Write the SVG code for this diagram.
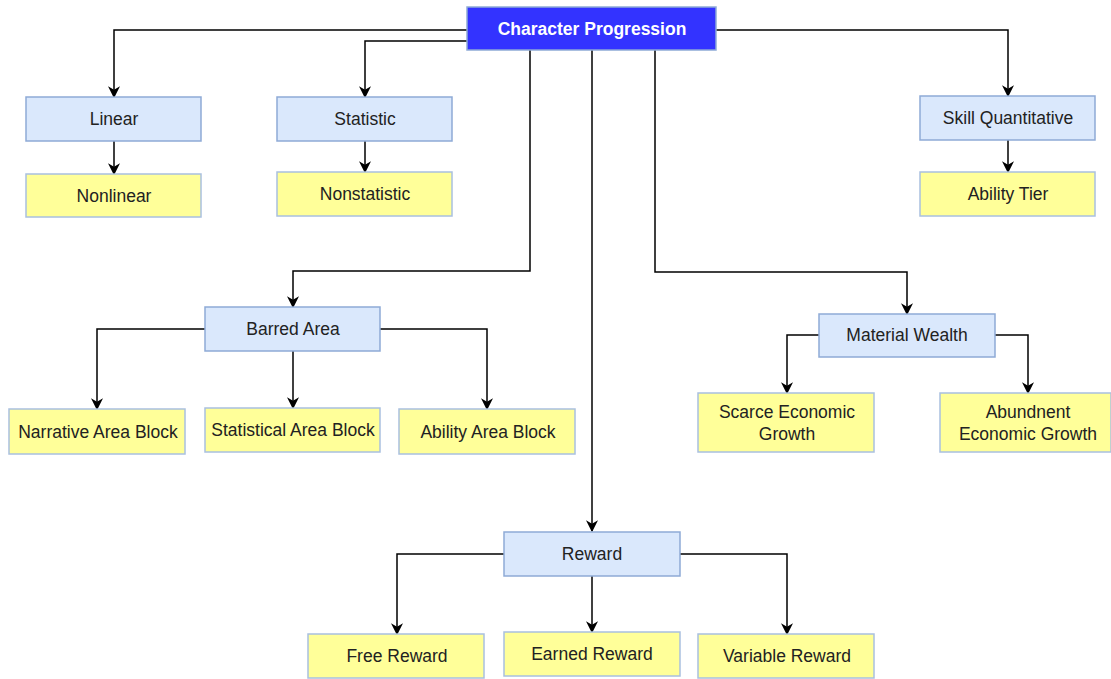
<svg xmlns="http://www.w3.org/2000/svg" width="1111" height="679" viewBox="0 0 1111 679">
<defs>
<marker id="arr" viewBox="0 0 10 10" refX="9" refY="5" markerWidth="12" markerHeight="12" markerUnits="userSpaceOnUse" orient="auto">
<path d="M0,0 L10,5 L0,10 L3,5 Z" fill="#000"/>
</marker>
<style>
.b{fill:#dae8fc;stroke:#8eaad6;stroke-width:1.5}
.y{fill:#ffff99;stroke:#a9c0e0;stroke-width:1.5}
.t{font-family:"Liberation Sans",Arial,sans-serif;font-size:17.5px;fill:#222;text-anchor:middle;dominant-baseline:central}
.c{fill:none;stroke:#000;stroke-width:1.5;marker-end:url(#arr)}
</style>
</defs>
<rect width="1111" height="679" fill="#fff"/>
<g id="connectors">
<path class="c" d="M467,30 H114 V97"/>
<path class="c" d="M467,41 H365 V97"/>
<path class="c" d="M716,30 H1008 V96"/>
<path class="c" d="M530,50 V271 H293 V307"/>
<path class="c" d="M592,50 V531"/>
<path class="c" d="M655,50 V272 H907 V314"/>
<path class="c" d="M114,141 V174"/>
<path class="c" d="M365,141 V172"/>
<path class="c" d="M1008,140 V172"/>
<path class="c" d="M205,329 H97 V409"/>
<path class="c" d="M293,351 V408"/>
<path class="c" d="M380,329 H487 V409"/>
<path class="c" d="M819,335 H787 V393"/>
<path class="c" d="M995,335 H1028 V393"/>
<path class="c" d="M504,554 H397 V634"/>
<path class="c" d="M592,576 V632"/>
<path class="c" d="M680,554 H787 V634"/>
</g>
<g id="n-root"><rect x="467" y="7" width="249" height="43" fill="#3333ff" stroke="#8eaad6" stroke-width="1.5"/><text class="t" x="592" y="29" style="fill:#fff;font-weight:bold">Character Progression</text></g>
<g id="n-linear"><rect class="b" x="26" y="97" width="175" height="44"/><text class="t" x="114" y="119">Linear</text></g>
<g id="n-nonlinear"><rect class="y" x="26" y="174" width="175" height="43"/><text class="t" x="114" y="196">Nonlinear</text></g>
<g id="n-statistic"><rect class="b" x="277" y="97" width="175" height="44"/><text class="t" x="365" y="119">Statistic</text></g>
<g id="n-nonstatistic"><rect class="y" x="277" y="172" width="175" height="44"/><text class="t" x="365" y="194">Nonstatistic</text></g>
<g id="n-skill"><rect class="b" x="920" y="96" width="175" height="44"/><text class="t" x="1008" y="118">Skill Quantitative</text></g>
<g id="n-ability-tier"><rect class="y" x="920" y="172" width="175" height="44"/><text class="t" x="1008" y="194">Ability Tier</text></g>
<g id="n-barred"><rect class="b" x="205" y="307" width="175" height="44"/><text class="t" x="293" y="329">Barred Area</text></g>
<g id="n-narrative"><rect class="y" x="9" y="409" width="176" height="45"/><text class="t" x="98" y="432">Narrative Area Block</text></g>
<g id="n-statistical"><rect class="y" x="205" y="408" width="175" height="44"/><text class="t" x="293" y="430">Statistical Area Block</text></g>
<g id="n-ability-area"><rect class="y" x="399" y="409" width="176" height="45"/><text class="t" x="488" y="432">Ability Area Block</text></g>
<g id="n-material"><rect class="b" x="819" y="314" width="176" height="43"/><text class="t" x="907" y="335">Material Wealth</text></g>
<g id="n-scarce"><rect class="y" x="698" y="393" width="176" height="59"/><text class="t" x="787" y="412">Scarce Economic</text><text class="t" x="787" y="434">Growth</text></g>
<g id="n-abundnent"><rect class="y" x="940" y="393" width="171" height="59"/><text class="t" x="1028" y="412">Abundnent</text><text class="t" x="1028" y="434">Economic Growth</text></g>
<g id="n-reward"><rect class="b" x="504" y="532" width="176" height="44"/><text class="t" x="592" y="554">Reward</text></g>
<g id="n-free"><rect class="y" x="308" y="634" width="176" height="44"/><text class="t" x="397" y="656">Free Reward</text></g>
<g id="n-earned"><rect class="y" x="504" y="632" width="176" height="44"/><text class="t" x="592" y="654">Earned Reward</text></g>
<g id="n-variable"><rect class="y" x="698" y="634" width="176" height="44"/><text class="t" x="787" y="656">Variable Reward</text></g>
</svg>
